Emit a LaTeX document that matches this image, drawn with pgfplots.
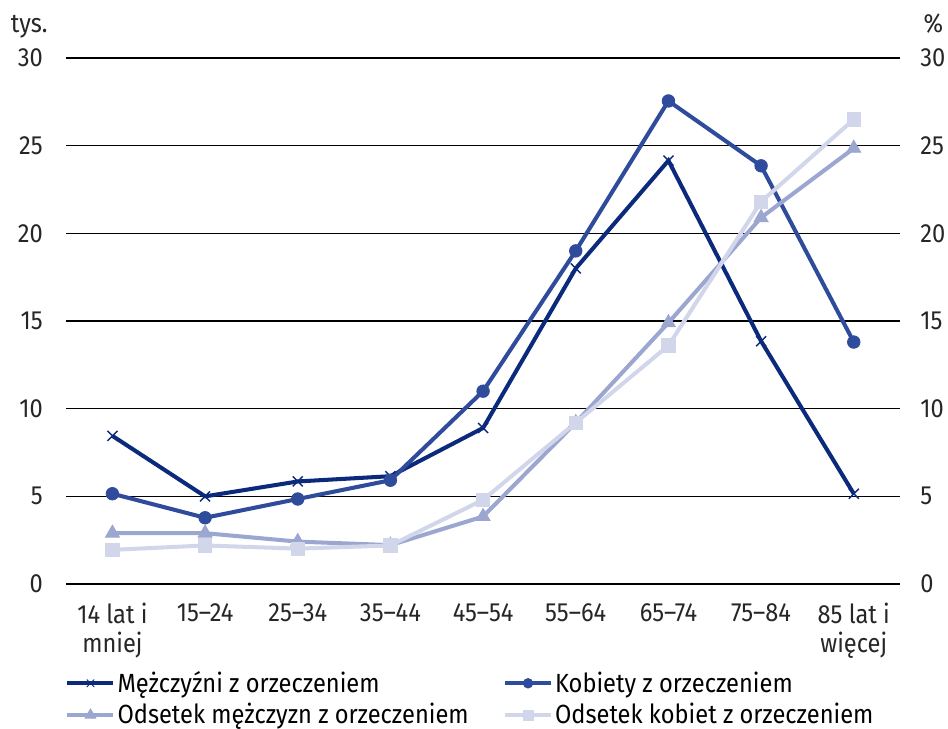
\documentclass[border=0pt]{standalone}
\usepackage{pgfplots}
\pgfplotsset{compat=1.18}
\usepackage{fontspec}
\setmainfont{Fira Sans}[FakeStretch=0.9]
\definecolor{cA}{HTML}{0B2A7C}
\definecolor{cB}{HTML}{2F4B9B}
\definecolor{cC}{HTML}{9BA7D0}
\definecolor{cD}{HTML}{D2D6EB}
\begin{document}
\begin{tikzpicture}
\pgfplotsset{
  common/.style={
    scale only axis, width=412.7pt, height=260.3pt,
    xmin=-0.5, xmax=8.5, ymin=0, ymax=30,
    ytick={0,5,...,30},
    tick style={draw=none},
    /pgf/number format/assume math mode=true,
    ticklabel style={font=\fontsize{13}{14}\selectfont, text=black!85},
  }
}
\begin{axis}[common, name=main,
  axis x line=none, axis y line*=left, y axis line style={draw=none},
  ymajorgrids, grid style={black, line width=0.7pt},
  yticklabel style={xshift=-8pt},
  xtick=data,
  legend style={at={(0.0,-0.165)}, anchor=north west, xshift=-3.5pt, yshift=3pt, draw=none,
    legend columns=2, font=\fontsize{13}{14}\selectfont,
    /tikz/every even column/.append style={column sep=16pt},
    row sep=2pt,
    nodes={inner sep=1pt}},
  legend cell align=left,
  legend image code/.code={
    \draw[#1, mark repeat=2, mark phase=2, mark options={scale=0.75, line width=0.5pt}] plot coordinates {(0cm,0cm) (0.4cm,0cm) (0.8cm,0cm)};},
]
\addplot[cA, line width=2pt, mark=x, mark size=3.5pt, mark options={line width=0.7pt}]
  coordinates {(0,8.45) (1,5.0) (2,5.85) (3,6.15) (4,8.9) (5,18.0) (6,24.15) (7,13.85) (8,5.15)};
\addlegendentry{Mężczyźni z orzeczeniem}
\addplot[cB, line width=2pt, mark=*, mark size=3.1pt, mark options={line width=0.4pt}]
  coordinates {(0,5.15) (1,3.78) (2,4.85) (3,5.92) (4,11.0) (5,19.0) (6,27.55) (7,23.85) (8,13.8)};
\addlegendentry{Kobiety z orzeczeniem}
\addplot[cC, line width=2pt, mark=triangle*, mark size=4pt, mark options={line width=0.4pt}]
  coordinates {(0,2.9) (1,2.9) (2,2.42) (3,2.22) (4,3.85) (5,9.2) (6,14.9) (7,20.9) (8,24.85)};
\addlegendentry{Odsetek mężczyzn z orzeczeniem}
\addplot[cD, line width=2pt, mark=square*, mark size=3.3pt, mark options={line width=0.4pt}]
  coordinates {(0,1.95) (1,2.2) (2,2.02) (3,2.2) (4,4.8) (5,9.2) (6,13.6) (7,21.8) (8,26.5)};
\addlegendentry{Odsetek kobiet z orzeczeniem}
\end{axis}
\begin{axis}[common,
  axis y line*=right, y axis line style={draw=none},
  axis x line*=bottom, x axis line style={draw=none},
  yticklabel style={xshift=6.5pt},
  xtick={0,...,8},
  xticklabels={{14 lat i\\mniej},15--24,25--34,35--44,45--54,55--64,65--74,75--84,{85 lat i\\więcej}},
  xticklabel style={align=center, yshift=-6pt, text depth=0pt},
]
\end{axis}
\node[anchor=base east, font=\fontsize{13}{14}\selectfont, text=black!85, inner sep=0pt] at ([xshift=-9pt, yshift=12.5pt]main.north west) {tys.};
\node[anchor=base, font=\fontsize{13}{14}\selectfont, text=black!85, inner sep=0pt] at ([xshift=16.5pt, yshift=12.5pt]main.north east) {\%};
\pgfresetboundingbox
\path[use as bounding box] ([shift={(-32.7pt,-71.7pt)}]main.south west) rectangle ([shift={(23.7pt,28.7pt)}]main.north east);
\end{tikzpicture}
\end{document}
